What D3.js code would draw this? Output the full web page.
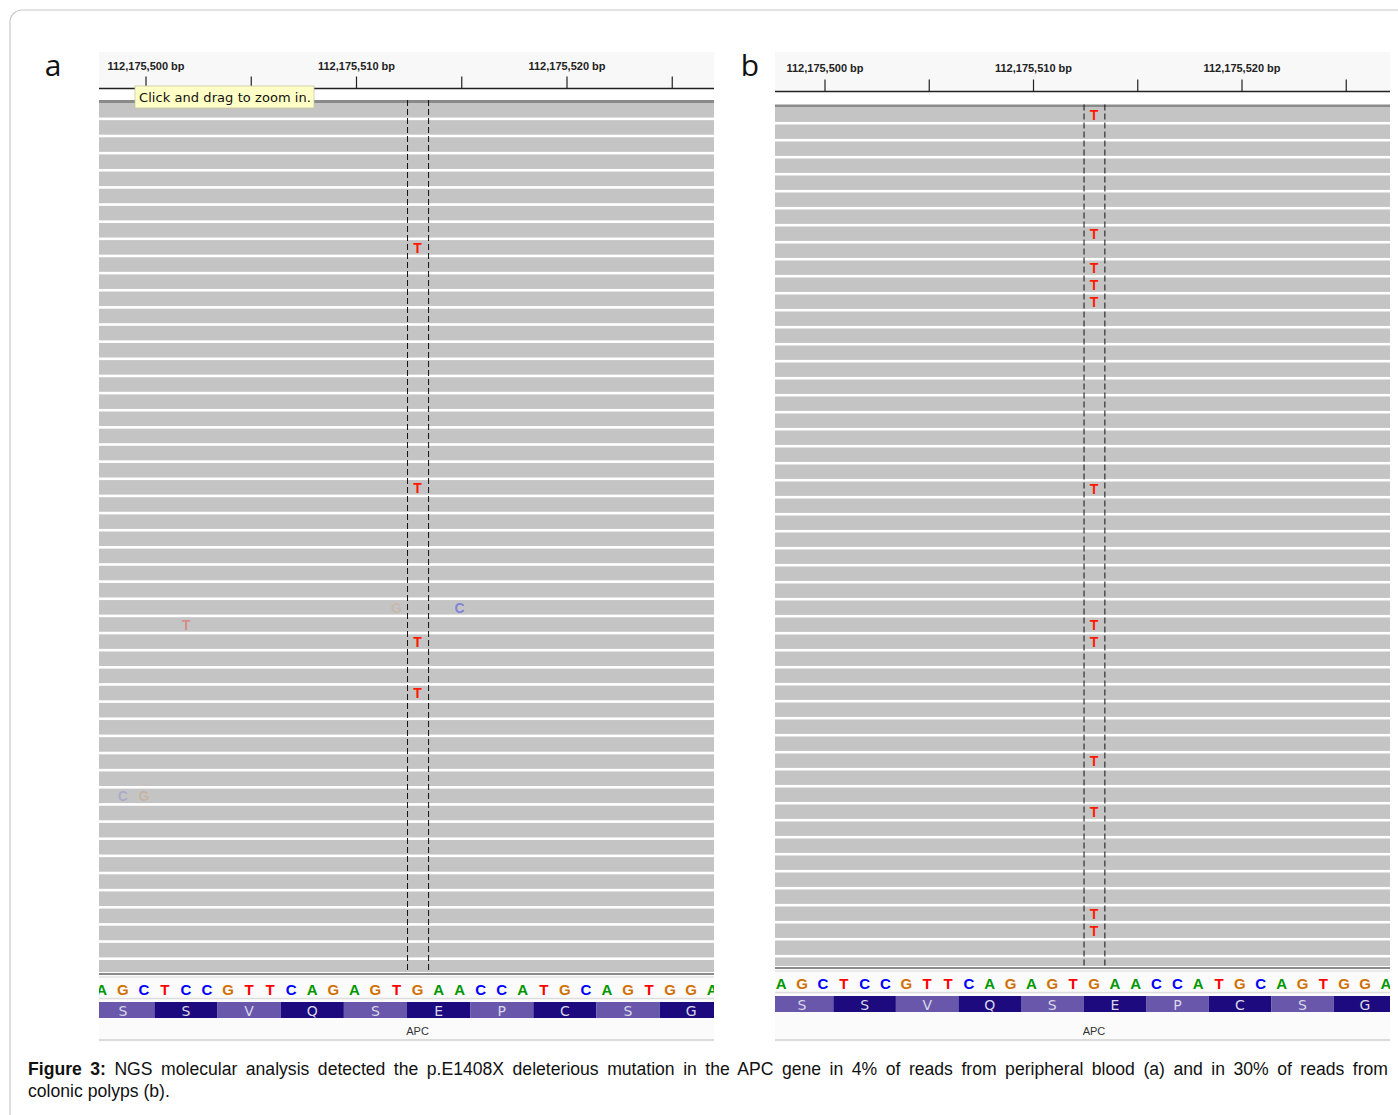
<!DOCTYPE html>
<html>
<head>
<meta charset="utf-8">
<script src="https://cdn.jsdelivr.net/npm/d3@7"></script>
<style>
  body { margin: 0; background: #fff; }
  svg { display: block; }
</style>
</head>
<body>
<div id="fig"></div>
<script>
// reference sequence shown in both panels, first base at 112,175,498
var seqStart = 112175498;
var refSeq = ["A","G","C","T","C","C","G","T","T","C","A","G","A","G","T","G","A","A","C","C","A","T","G","C","A","G","T","G","G","A"];
var aminoAcids = ["S","S","V","Q","S","E","P","C","S","G"];
var tickPos = [112175500, 112175505, 112175510, 112175515, 112175520, 112175525];
var tickLabels = ["112,175,500 bp", "", "112,175,510 bp", "", "112,175,520 bp", ""];
var mutPos = 112175513;

// panel a: reads carrying the T, plus faint low quality mismatches
var rowsA = d3.range(51);
var mutRowsA = [8, 22, 31, 34];
var lowQualA = [
  { row: 29, pos: 112175512, base: "G", op: 0.15 },
  { row: 29, pos: 112175515, base: "C", op: 0.35 },
  { row: 30, pos: 112175502, base: "T", op: 0.3 },
  { row: 40, pos: 112175499, base: "C", op: 0.15 },
  { row: 40, pos: 112175500, base: "G", op: 0.2 }
];

// panel b
var rowsB = d3.range(51);
var mutRowsB = [0, 7, 9, 10, 11, 22, 30, 31, 38, 41, 47, 48];

var baseColor = { A: "#009600", C: "#0000ff", G: "#d17105", T: "#ff0000" };

var W = 1398, H = 1115;
var svg = d3.select("#fig").append("svg").attr("width", W).attr("height", H);

// outer frame
svg.append("rect")
  .attr("x", 10).attr("y", 10).attr("width", 1420).attr("height", 1140)
  .attr("rx", 12)
  .style("fill", "none").style("stroke", "#c8c8c8").style("stroke-width", 1.2);

function drawPanel(p) {
  var g = svg.append("g");
  var x = d3.scaleLinear().domain([112175500, 112175520]).range(p.tickRange);
  var y = d3.scaleLinear().domain([0, 1]).range([p.readTop, p.readTop + p.pitch]);
  var clipId = "clip" + p.name;

  svg.append("clipPath").attr("id", clipId)
    .append("rect")
    .attr("x", p.x0).attr("y", 40).attr("width", p.x1 - p.x0).attr("height", 1020);
  g.attr("clip-path", "url(#" + clipId + ")");

  // base centre sits a little left of the tick
  function bx(pos) { return x(pos - 0.1); }
  var bw = x(1) - x(0);

  // ruler
  g.append("rect")
    .attr("x", p.x0).attr("y", 52).attr("width", p.x1 - p.x0).attr("height", p.rulerY - 52)
    .style("fill", "#f8f8f8");

  g.selectAll("line.tick")
    .data(tickPos)
    .enter()
    .append("line")
    .attr("class", "tick")
    .attr("x1", function(d) { return x(d); })
    .attr("x2", function(d) { return x(d); })
    .attr("y1", p.rulerY - 12)
    .attr("y2", p.rulerY)
    .style("stroke", "#222")
    .style("stroke-width", "1.2px");

  g.selectAll("text.tlabel")
    .data(tickPos)
    .enter()
    .append("text")
    .attr("class", "tlabel")
    .attr("x", function(d) { return x(d); })
    .attr("y", p.rulerY - p.labelOff)
    .attr("text-anchor", "middle")
    .attr("font-family", "Liberation Sans, Arial, sans-serif")
    .attr("font-weight", "bold")
    .attr("font-size", 11)
    .style("fill", "#222")
    .text(function(d, i) { return tickLabels[i]; });

  g.append("line")
    .attr("x1", p.x0).attr("x2", p.x1)
    .attr("y1", p.rulerY).attr("y2", p.rulerY)
    .style("stroke", "#222").style("stroke-width", "1.6px");

  // top of the alignment track
  g.append("rect")
    .attr("x", p.x0).attr("y", p.readTop - 3).attr("width", p.x1 - p.x0).attr("height", 3)
    .style("fill", "#8a8a8a");

  // reads
  g.selectAll("rect.read")
    .data(p.rows)
    .enter()
    .append("rect")
    .attr("class", "read")
    .attr("x", p.x0)
    .attr("y", function(d) { return y(d); })
    .attr("width", p.x1 - p.x0)
    .attr("height", function(d) { return Math.max(0, Math.min(p.pitch - 2.6, p.readBottom - y(d))); })
    .style("fill", "#c4c4c4");

  // low quality mismatches
  g.selectAll("text.lowq")
    .data(p.lowQual)
    .enter()
    .append("text")
    .attr("class", "lowq")
    .attr("x", function(d) { return bx(d.pos); })
    .attr("y", function(d) { return y(d.row) + 12.5; })
    .attr("text-anchor", "middle")
    .attr("font-family", "Liberation Sans, Arial, sans-serif")
    .attr("font-weight", "bold")
    .attr("font-size", 14)
    .style("fill", function(d) { return baseColor[d.base]; })
    .style("fill-opacity", function(d) { return d.op; })
    .text(function(d) { return d.base; });

  // mutated reads
  g.selectAll("text.mut")
    .data(p.mutRows)
    .enter()
    .append("text")
    .attr("class", "mut")
    .attr("x", bx(mutPos))
    .attr("y", function(d) { return y(d) + 12.5; })
    .attr("text-anchor", "middle")
    .attr("font-family", "Liberation Sans, Arial, sans-serif")
    .attr("font-weight", "bold")
    .attr("font-size", 14)
    .style("fill", "#ff1a00")
    .text("T");

  // centre line markers
  g.selectAll("line.centre")
    .data([bx(mutPos) - bw / 2, bx(mutPos) + bw / 2])
    .enter()
    .append("line")
    .attr("class", "centre")
    .attr("x1", function(d) { return d + 0.5; })
    .attr("x2", function(d) { return d + 0.5; })
    .attr("y1", p.readTop - 3)
    .attr("y2", p.seqTop)
    .style("stroke", "#111")
    .style("stroke-width", "1px")
    .style("stroke-dasharray", "6,3");

  // sequence track
  g.append("rect")
    .attr("x", p.x0).attr("y", p.seqTop).attr("width", p.x1 - p.x0).attr("height", 1042 - p.seqTop)
    .style("fill", "#fbfbfb");
  g.append("rect")
    .attr("x", p.x0).attr("y", p.seqTop).attr("width", p.x1 - p.x0).attr("height", 2)
    .style("fill", "#8a8a8a");
  g.append("line")
    .attr("x1", p.x0).attr("x2", p.x1)
    .attr("y1", p.seqTop + 4).attr("y2", p.seqTop + 4)
    .style("stroke", "#d8d8d8");

  g.selectAll("text.base")
    .data(refSeq)
    .enter()
    .append("text")
    .attr("class", "base")
    .attr("x", function(d, i) { return bx(seqStart + i); })
    .attr("y", p.seqTop + 21.5)
    .attr("text-anchor", "middle")
    .attr("font-family", "Liberation Sans, Arial, sans-serif")
    .attr("font-weight", "bold")
    .attr("font-size", 15)
    .style("fill", function(d) { return baseColor[d]; })
    .text(function(d) { return d; });

  g.append("line")
    .attr("x1", p.x0).attr("x2", p.x1)
    .attr("y1", p.seqTop + 25.5).attr("y2", p.seqTop + 25.5)
    .style("stroke", "#dddddd").style("stroke-width", "1.5px");

  // amino acid boxes
  var aaY = p.seqTop + 29;
  g.selectAll("rect.aa")
    .data(aminoAcids)
    .enter()
    .append("rect")
    .attr("class", "aa")
    .attr("x", function(d, i) { return bx(seqStart + 3 * i) - bw / 2; })
    .attr("y", aaY)
    .attr("width", 3 * bw)
    .attr("height", 16)
    .style("fill", function(d, i) { return i % 2 === 0 ? "#6857ab" : "#1c0a7e"; });

  g.selectAll("text.aa")
    .data(aminoAcids)
    .enter()
    .append("text")
    .attr("class", "aa")
    .attr("x", function(d, i) { return bx(seqStart + 3 * i + 1); })
    .attr("y", aaY + 13.5)
    .attr("text-anchor", "middle")
    .attr("font-family", "DejaVu Sans, sans-serif")
    .attr("font-size", 14)
    .style("fill", "#d8d8e8")
    .text(function(d) { return d; });

  g.append("text")
    .attr("x", bx(mutPos))
    .attr("y", 1035)
    .attr("text-anchor", "middle")
    .attr("font-family", "Liberation Sans, Arial, sans-serif")
    .attr("font-size", 11)
    .style("fill", "#333")
    .text("APC");

  g.append("line")
    .attr("x1", p.x0).attr("x2", p.x1)
    .attr("y1", 1040).attr("y2", 1040)
    .style("stroke", "#d0d0d0").style("stroke-width", "1.5px");

  // panel letter
  svg.append("text")
    .attr("x", p.letterX)
    .attr("y", 76)
    .attr("text-anchor", "middle")
    .attr("font-family", "Open Sans, sans-serif")
    .attr("font-size", 30)
    .style("fill", "#111")
    .text(p.name);

  return g;
}

drawPanel({
  name: "a", x0: 99, x1: 714, tickRange: [146, 567], rulerY: 88.5, labelOff: 18.5,
  readTop: 103, pitch: 17.14, readBottom: 972, seqTop: 973,
  rows: rowsA, mutRows: mutRowsA, lowQual: lowQualA, letterX: 53
});

drawPanel({
  name: "b", x0: 775, x1: 1390, tickRange: [825, 1242], rulerY: 91.5, labelOff: 19.5,
  readTop: 107.5, pitch: 17, readBottom: 966, seqTop: 967,
  rows: rowsB, mutRows: mutRowsB, lowQual: [], letterX: 750
});

// tooltip in panel a
var tip = svg.append("g").attr("transform", "translate(135,86)");
tip.append("rect")
  .attr("width", 179).attr("height", 22)
  .style("fill", "#ffffc6").style("stroke", "#c9c9a0").style("stroke-width", "0.8px");
tip.append("text")
  .attr("x", 4).attr("y", 16)
  .attr("font-family", "DejaVu Sans, sans-serif")
  .attr("font-size", 13)
  .attr("textLength", 172)
  .style("fill", "#111")
  .text("Click and drag to zoom in.");

// caption, first line justified by widening the word gaps
var capLine1 = " NGS molecular analysis detected the p.E1408X deleterious mutation in the APC gene in 4% of reads from peripheral blood (a) and in 30% of reads from";
var cap = svg.append("text")
  .attr("x", 28).attr("y", 1075)
  .attr("font-family", "Liberation Sans, Arial, sans-serif")
  .attr("font-size", 17.6)
  .style("fill", "#111");
cap.append("tspan").attr("font-weight", "bold").text("Figure 3:");
cap.append("tspan").text(capLine1);
var natural = cap.node().getComputedTextLength();
var gaps = capLine1.split(" ").length; // includes the gap after "Figure 3:"
cap.attr("word-spacing", Math.max(0, (1360 - natural) / gaps));

svg.append("text")
  .attr("x", 28).attr("y", 1097)
  .attr("font-family", "Liberation Sans, Arial, sans-serif")
  .attr("font-size", 17.6)
  .style("fill", "#111")
  .text("colonic polyps (b).");
</script>
</body>
</html>
